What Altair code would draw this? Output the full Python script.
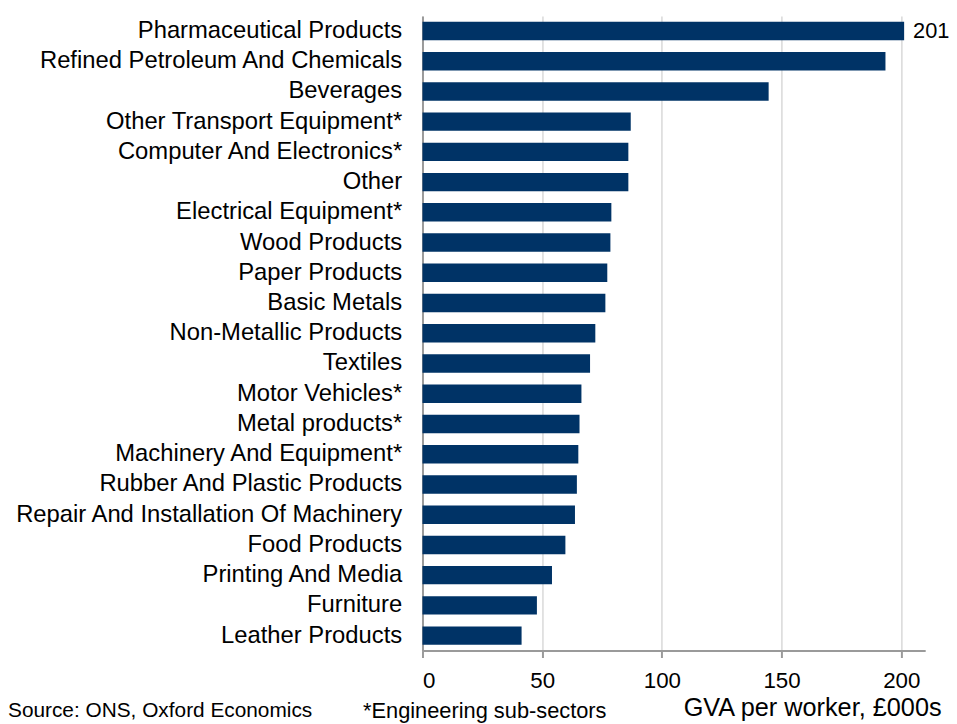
import altair as alt
import pandas as pd

categories = [
    "Pharmaceutical Products",
    "Refined Petroleum And Chemicals",
    "Beverages",
    "Other Transport Equipment*",
    "Computer And Electronics*",
    "Other",
    "Electrical Equipment*",
    "Wood Products",
    "Paper Products",
    "Basic Metals",
    "Non-Metallic Products",
    "Textiles\u00a0",
    "Motor Vehicles*",
    "Metal products*",
    "Machinery And Equipment*",
    "Rubber And Plastic Products",
    "Repair And Installation Of Machinery",
    "Food Products",
    "Printing And Media",
    "Furniture",
    "Leather Products",
]
values = [201.2, 193.4, 144.6, 87.0, 86.0, 86.0, 78.9, 78.5, 77.2, 76.4, 72.2,
          70.0, 66.4, 65.6, 65.1, 64.5, 63.7, 59.7, 54.1, 47.8, 41.4]
tick_values = [0, 50, 100, 150, 200]
x_title = "GVA per worker, £000s"
notes = ["Source: ONS, Oxford Economics", "*Engineering sub-sectors"]

FONT = "Liberation Sans"
BAR = "#003366"
PAD_LEFT = 418

df = pd.DataFrame({"sector": categories, "gva": values})

y_enc = alt.Y(
    "sector:N",
    sort=categories,
    scale=alt.Scale(paddingInner=0.39, paddingOuter=0.19),
    axis=alt.Axis(
        title=None, ticks=False, labelFont=FONT, labelFontSize=24,
        labelColor="black", labelPadding=21, domainColor="#9a9a9a",
        domainWidth=2, labelLimit=0, grid=False,
    ),
)
x_enc = alt.X(
    "gva:Q",
    scale=alt.Scale(domain=[0, 210], nice=False, zero=True),
    axis=alt.Axis(
        values=tick_values, title=x_title, titleFont=FONT, titleFontSize=25.5,
        titleFontWeight="normal", titleColor="black", titleAlign="right",
        titleBaseline="middle", titleX=523, titleY=57,
        grid=True, gridColor="#cfcfcf", gridWidth=1.2,
        domainColor="#9a9a9a", domainWidth=2, tickColor="#9a9a9a",
        tickWidth=2, tickSize=7, labelFont=FONT, labelFontSize=22.5,
        labelColor="black", labelPadding=12, format="d",
    ),
)

bars = alt.Chart(df).mark_bar(color=BAR).encode(x=x_enc, y=y_enc)

top_label = (
    alt.Chart(df)
    .transform_filter(alt.datum.sector == categories[0])
    .mark_text(align="left", baseline="middle", dx=9, font=FONT,
               fontSize=22, color="black")
    .encode(x="gva:Q", y=alt.Y("sector:N", sort=categories),
            text=alt.Text("gva:Q", format=".0f"))
)

note_df = pd.DataFrame({"note": notes, "idx": [0, 1]})
source_note = (
    alt.Chart(note_df)
    .transform_filter(alt.datum.idx == 0)
    .mark_text(align="left", baseline="middle", font=FONT, fontSize=21,
               color="black")
    .encode(x=alt.value(-PAD_LEFT), y=alt.value(701), text="note:N")
)
eng_note = (
    alt.Chart(note_df)
    .transform_filter(alt.datum.idx == 1)
    .mark_text(align="left", baseline="middle", font=FONT, fontSize=22,
               color="black")
    .encode(x=alt.value(-60), y=alt.value(701), text="note:N")
)

chart = (
    alt.layer(bars, top_label, source_note, eng_note)
    .properties(
        width=507, height=640,
        autosize=alt.AutoSizeParams(type="none"),
        padding={"left": PAD_LEFT, "top": 5, "right": 24, "bottom": 71},
    )
    .configure_view(stroke=None)
)

chart.save("out.html", embed_options={"renderer": "svg", "actions": False})
